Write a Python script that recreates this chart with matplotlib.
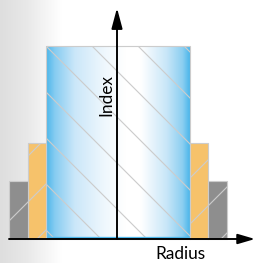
import numpy as np
import matplotlib.pyplot as plt
from matplotlib.colors import LinearSegmentedColormap

# step-index profile, in pixel-like units (radius from centre, index above baseline)
layers = ['core', 'cladding', 'jacket']
r_inner = [0, 72, 90]
r_outer = [72, 90, 109]
index = [193, 96, 58]
colors = ['#4cb6ea', '#f6c26b', '#8e8e8e']
hatches = ['\\', '/', '/']

DPI = 138
plt.rcParams['hatch.linewidth'] = 0.6
plt.rcParams['hatch.color'] = '#c6c6c6'
plt.rcParams['font.family'] = ['Lato', 'DejaVu Sans']

fig = plt.figure(figsize=(255 / DPI, 263 / DPI), dpi=DPI)
ax = fig.add_axes([0, 0, 1, 1])
ax.set_xlim(-118, 137)
ax.set_ylim(-24, 239)
ax.axis('off')

# grey fade on the left of the background
bg = LinearSegmentedColormap.from_list(
    'bg', [(0, '#dedede'), (0.1, '#e8e8e8'), (0.24, '#ffffff'), (1, '#ffffff')])
grad = np.linspace(0, 1, 256)[None, :]
ax.imshow(grad, cmap=bg, extent=(-118, 137, -24, 239), aspect='auto', zorder=0)

# core with blue-white-blue gradient
core_cm = LinearSegmentedColormap.from_list(
    'core', [(0, '#4cb6ea'), (0.06, '#86ccf1'), (0.2, '#cbe7f9'),
             (0.4, '#eef7fd'), (0.55, '#ffffff'), (0.66, '#ffffff'),
             (0.84, '#c8e6f8'), (0.95, '#8ccff1'), (1, '#4cb6ea')])
r0 = r_outer[0]
img = ax.imshow(grad, cmap=core_cm, extent=(-r0, r0, 0, index[0]), aspect='auto', zorder=1)
core = ax.bar(0, index[0], width=2 * r0, facecolor='none', edgecolor='#cccccc',
              hatch=hatches[0], linewidth=0.6, zorder=2)
img.set_clip_path(core[0])
ax.plot([-r0, r0], [1, 1], color=colors[0], lw=1.2, zorder=2)

# outer layers on both sides
for name, ri, ro, h, c, ht in zip(layers[1:], r_inner[1:], r_outer[1:], index[1:], colors[1:], hatches[1:]):
    w = ro - ri
    mid = (ri + ro) / 2
    ax.bar([-mid, mid], [h, h], width=w, color=c, edgecolor='#cccccc',
           hatch=ht, linewidth=0.6, zorder=2)

# axes arrows
ax.annotate('', xy=(137, 0), xytext=(-r_outer[-1], 0),
            arrowprops=dict(arrowstyle='-|>,head_length=0.75,head_width=0.22',
                            mutation_scale=10, lw=1.0, color='black', shrinkA=0, shrinkB=0),
            zorder=3)
ax.annotate('', xy=(-1, 231), xytext=(-1, 0),
            arrowprops=dict(arrowstyle='-|>,head_length=0.9,head_width=0.24',
                            mutation_scale=10, lw=1.0, color='black', shrinkA=0, shrinkB=0),
            zorder=3)

ax.text(-12, 144, 'Index', rotation=90, ha='center', va='center', fontsize=9.0, zorder=4)
ax.text(62, -15, 'Radius', ha='center', va='center', fontsize=9.0, zorder=4)

fig.savefig('out.png', dpi=DPI)
